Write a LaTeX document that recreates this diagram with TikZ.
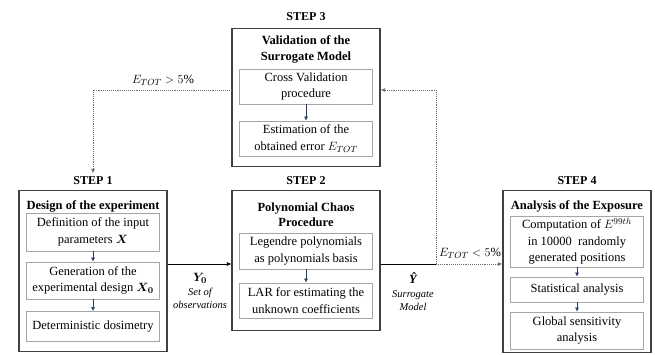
\documentclass[tikz,border=0pt]{standalone}
\usepackage{fontspec}
\setmainfont{Liberation Serif}
\usepackage{amsmath}
\usepackage{bm}
\usetikzlibrary{arrows.meta,positioning}
\definecolor{outerline}{RGB}{64,64,64}
\definecolor{innerline}{RGB}{165,165,165}
\definecolor{linkblue}{RGB}{40,60,100}
\definecolor{loopgray}{RGB}{110,110,110}
\newcommand{\outsym}[1]{{\upshape\fontsize{12.5}{14}\selectfont$\bm{#1}$}}
\tikzset{
    step label/.style={font=\bfseries\fontsize{12}{14}\selectfont},
    stage box/.style={rectangle, draw=outerline, line width=1.1pt, minimum width=148pt, anchor=north},
    stage head/.style={align=center, font=\bfseries\fontsize{12.5}{15.5}\selectfont, inner sep=0pt},
    task box/.style={rectangle, draw=innerline, line width=0.8pt, minimum width=133pt, align=center, font=\fontsize{12.5}{16.5}\selectfont, inner sep=1pt},
    inner link/.style={-{Latex[length=4pt,width=4pt]}, draw=linkblue, line width=0.6pt},
    flow link/.style={-{Latex[length=4.5pt,width=4pt]}, line width=0.7pt},
    loop link/.style={densely dotted, draw=loopgray, line width=0.9pt},
    out label/.style={align=center, font=\itshape\fontsize{10.5}{13}\selectfont, inner sep=0pt}
}
\begin{document}
\begin{tikzpicture}[x=1pt,y=-1pt]
	\useasboundingbox (0,0) rectangle (655,354);
	% step headings
	\node[step label] (step1) at (93,181) {STEP 1};
	\node[step label] (step2) at (306,181) {STEP 2};
	\node[step label] (step3) at (306,17) {STEP 3};
	\node[step label] (step4) at (577,181) {STEP 4};
	% outer boxes
	\node[stage box, minimum height=161pt] (design) at (93,190) {};
	\node[stage box, minimum height=140pt] (chaos) at (306,190) {};
	\node[stage box, minimum height=138pt] (valid) at (306,28) {};
	\node[stage box, minimum height=162pt] (expo) at (577,190) {};
	% step 1
	\node[stage head] (designhead) at (93,206) {Design of the experiment};
	\node[task box, minimum height=38pt] (inputs) at (93,232) {Definition of the input\\parameters $\bm{X}$};
	\node[task box, minimum height=37pt] (plan) at (93,280.5) {Generation of the\\experimental design $\bm{X_0}$};
	\node[task box, minimum height=30pt] (dosi) at (93,326.5) {Deterministic dosimetry};
	\draw[inner link] (inputs) -- (plan);
	\draw[inner link] (plan) -- (dosi);
	% step 2
	\node[stage head] (chaoshead) at (306,214.5) {Polynomial Chaos\\Procedure};
	\node[task box, minimum height=36pt] (legendre) at (306,251) {Legendre polynomials\\as polynomials basis};
	\node[task box, minimum height=35pt] (lar) at (306,300.5) {LAR for estimating the\\unknown coefficients};
	\draw[inner link] (legendre) -- (lar);
	% step 3
	\node[stage head] (validhead) at (306,49.5) {Validation of the\\Surrogate Model};
	\node[task box, minimum height=35pt] (cross) at (306,86.5) {Cross Validation\\procedure};
	\node[task box, minimum height=35pt] (error) at (306,138.5) {Estimation of the\\obtained error $E_{TOT}$};
	\draw[inner link] (cross) -- (error);
	% step 4
	\node[stage head] (expohead) at (577,206) {Analysis of the Exposure};
	\node[task box, minimum height=51pt] (compute) at (577,241.5) {Computation of $E^{99th}$\\in 10000~ randomly\\generated positions};
	\node[task box, minimum height=25pt] (stats) at (577,289.5) {Statistical analysis};
	\node[task box, minimum height=37pt] (gsa) at (577,330.5) {Global sensitivity\\analysis};
	\draw[inner link] (compute) -- (stats);
	\draw[inner link] (stats) -- (gsa);
	% links between steps
	\coordinate (mainline) at (200,264);
	\coordinate (split) at (436,264);
	\coordinate (backline) at (200,90);
	\draw[flow link] (mainline -| design.east) -- (mainline -| chaos.west);
	\draw[line width=0.7pt] (mainline -| chaos.east) -- (split);
	\draw[loop link, -{Latex[length=4.5pt,width=4pt]}] (split) -- (mainline -| expo.west);
	\draw[loop link, -{Latex[length=4.5pt,width=4pt]}] (split) |- (backline -| valid.east);
	\draw[loop link, -{Latex[length=4.5pt,width=4pt]}] (backline -| valid.west) -| (step1.north);
	% labels
	\node[font=\fontsize{12.5}{14}\selectfont] (high) at (163,80) {$E_{TOT} > 5\%$};
	\node[font=\fontsize{12.5}{14}\selectfont] (low) at (470,253) {$E_{TOT} < 5\%$};
	\node[out label] (obs) at (200,291) {\outsym{Y_0}\\[1pt]Set of\\observations};
	\node[out label] (surr) at (413,292) {{\bfseries\fontsize{12.5}{14}\selectfont Ŷ}\\[1pt]Surrogate\\Model};
\end{tikzpicture}
\end{document}
